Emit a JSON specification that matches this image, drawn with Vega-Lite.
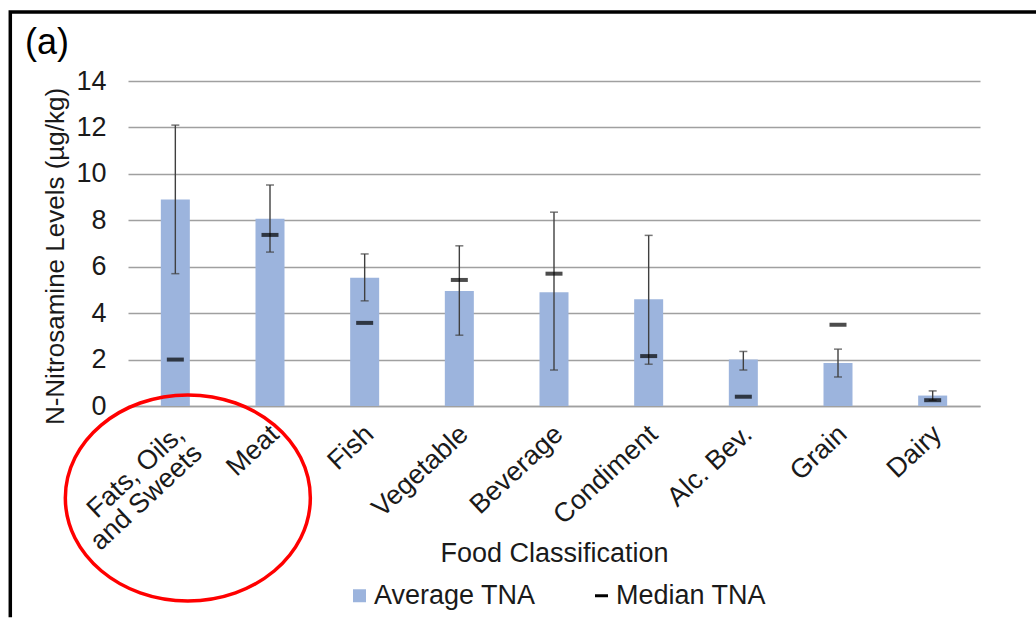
{
  "$schema": "https://vega.github.io/schema/vega-lite/v6.json",
  "autosize": "none",
  "width": 852,
  "height": 325,
  "padding": {"left": 128, "top": 81, "right": 56, "bottom": 213},
  "background": "white",
  "config": {
    "font": "Liberation Sans",
    "view": {"stroke": null},
    "axis": {"labelColor": "#1a1a1a", "titleColor": "#1a1a1a"},
    "legend": {"labelColor": "#1a1a1a"}
  },
  "title": {
    "text": "(a)",
    "anchor": "start",
    "frame": "group",
    "fontSize": 36,
    "fontWeight": "normal",
    "color": "#000000",
    "dx": -103,
    "dy": 61
  },
  "data": {
    "values": [
      {"cat": "Fats, Oils, and Sweets", "mean": 8.9, "lo": 5.7, "hi": 12.1, "median": 2.0},
      {"cat": "Meat", "mean": 8.07, "lo": 6.63, "hi": 9.52, "median": 7.37},
      {"cat": "Fish", "mean": 5.52, "lo": 4.53, "hi": 6.55, "median": 3.58},
      {"cat": "Vegetable", "mean": 4.95, "lo": 3.05, "hi": 6.9, "median": 5.43},
      {"cat": "Beverage", "mean": 4.9, "lo": 1.55, "hi": 8.35, "median": 5.7},
      {"cat": "Condiment", "mean": 4.6, "lo": 1.8, "hi": 7.35, "median": 2.15},
      {"cat": "Alc. Bev.", "mean": 2.0, "lo": 1.55, "hi": 2.35, "median": 0.4},
      {"cat": "Grain", "mean": 1.85, "lo": 1.25, "hi": 2.45, "median": 3.5},
      {"cat": "Dairy", "mean": 0.45, "lo": 0.25, "hi": 0.65, "median": 0.25}
    ]
  },
  "encoding": {
    "x": {
      "field": "cat",
      "type": "nominal",
      "sort": null,
      "scale": {"paddingInner": 0, "paddingOuter": 0},
      "axis": {
        "orient": "bottom",
        "labelAngle": -43,
        "labelAlign": "right",
        "labelBaseline": "middle",
        "labelFontSize": 27,
        "labelLineHeight": 26,
        "labelPadding": 24,
        "labelOffset": 5,
        "labelLimit": 0,
        "labelExpr": "datum.value == 'Fats, Oils, and Sweets' ? ['Fats, Oils,', 'and Sweets'] : datum.value",
        "ticks": false,
        "domainColor": "#a0a0a0",
        "domainWidth": 1.5,
        "title": "Food Classification",
        "titleFontSize": 27,
        "titleFontWeight": "normal",
        "titleY": 147,
        "titleBaseline": "middle"
      }
    }
  },
  "layer": [
    {
      "mark": {"type": "bar", "size": 29},
      "encoding": {
        "y": {
          "field": "mean",
          "type": "quantitative",
          "scale": {"domain": [0, 14], "nice": false},
          "axis": {
            "values": [0, 2, 4, 6, 8, 10, 12, 14],
            "grid": true,
            "gridColor": "#a0a0a0",
            "gridWidth": 1.5,
            "ticks": false,
            "domain": false,
            "labelFontSize": 27,
            "labelPadding": 22,
            "title": "N-Nitrosamine Levels (µg/kg)",
            "titleFontSize": 26,
            "titleFontWeight": "normal",
            "titleX": -73,
            "titleY": 175,
            "titleBaseline": "middle"
          }
        },
        "color": {
          "datum": "Average TNA",
          "scale": {"domain": ["Average TNA", "Median TNA"], "range": ["#9cb4dd", "#000000"]},
          "legend": {
            "orient": "none",
            "legendX": 218,
            "legendY": 501,
            "direction": "horizontal",
            "title": null,
            "padding": 0,
            "labelFontSize": 27,
            "labelLimit": 400,
            "symbolSize": 169,
            "symbolStrokeWidth": 0,
            "columnPadding": 52,
            "labelOffset": 1,
            "encode": {
              "symbols": {
                "update": {
                  "shape": {"signal": "datum.value === 'Median TNA' ? 'M-1,-0.23H1V0.23H-1Z' : 'square'"}
                }
              }
            }
          }
        }
      }
    },
    {
      "mark": {"type": "rule", "color": "#404040", "strokeWidth": 1.4},
      "encoding": {
        "y": {"field": "lo", "type": "quantitative"},
        "y2": {"field": "hi"}
      }
    },
    {
      "mark": {"type": "tick", "color": "#404040", "size": 8, "thickness": 1.5},
      "encoding": {"y": {"field": "lo", "type": "quantitative"}}
    },
    {
      "mark": {"type": "tick", "color": "#404040", "size": 8, "thickness": 1.5},
      "encoding": {"y": {"field": "hi", "type": "quantitative"}}
    },
    {
      "mark": {"type": "tick", "size": 17, "thickness": 4},
      "encoding": {
        "y": {"field": "median", "type": "quantitative"},
        "color": {"datum": "Median TNA"}
      }
    },
    {
      "data": {"values": [{"note": "highlight"}]},
      "mark": {
        "type": "point",
        "shape": "M-1,0A1,0.841,0,1,0,1,0A1,0.841,0,1,0,-1,0Z",
        "size": 60025,
        "filled": false,
        "stroke": "#ff0000",
        "strokeWidth": 3.5,
        "opacity": 1,
        "xOffset": 12.5
      },
      "encoding": {
        "x": {"datum": "Fats, Oils, and Sweets"},
        "y": {"datum": -3.96, "scale": {"domain": [0, 14], "nice": false}}
      }
    },
    {
      "data": {"values": [{"note": "frame"}]},
      "mark": {
        "type": "point",
        "shape": "M-1,0.582V-0.582H1",
        "size": 1081600,
        "filled": false,
        "stroke": "#000000",
        "strokeWidth": 3.5,
        "opacity": 1,
        "xOffset": -23.7
      },
      "encoding": {
        "x": {"datum": "Beverage"},
        "y": {"datum": 3.94, "scale": {"domain": [0, 14], "nice": false}}
      }
    }
  ]
}
